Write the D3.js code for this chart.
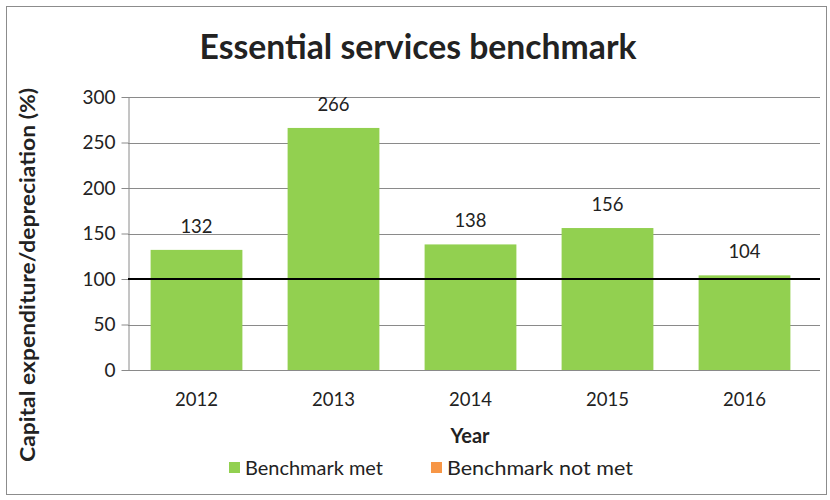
<!DOCTYPE html>
<html>
<head>
<meta charset="utf-8">
<script src="https://cdn.jsdelivr.net/npm/d3@7"></script>
<style>
  html, body { margin: 0; padding: 0; background: #fff; }
  svg { display: block; }
  text { font-family: Lato, "Open Sans", "Liberation Sans", sans-serif; fill: #222; }
</style>
</head>
<body>
<svg id="chart" width="830" height="500"></svg>
<script>
// Capital expenditure as a share of depreciation, by year
const years = ["2012", "2013", "2014", "2015", "2016"];
const ratios = [132, 266, 138, 156, 104];
const benchmark = 100;
const yTicks = [0, 50, 100, 150, 200, 250, 300];
const legendItems = ["Benchmark met", "Benchmark not met"];
const legendColors = ["#92D050", "#F79646"];

const svg = d3.select("#chart");
const W = 830, H = 500;
const m = { left: 128, right: 17, top: 97, bottom: 130 };

// outer chart frame
svg.append("rect")
  .attr("x", 6.5).attr("y", 6.5)
  .attr("width", W - 10).attr("height", H - 12)
  .attr("fill", "#fff").attr("stroke", "#8c8c8c").attr("stroke-width", 1);

const x = d3.scaleBand().domain(years).range([m.left, W - m.right]).paddingInner(0.33).paddingOuter(0.165);
const y = d3.scaleLinear().domain([0, 300]).range([H - m.bottom, m.top]);

// gridlines
svg.append("g")
  .selectAll("line").data(yTicks.slice(1)).join("line")
  .attr("x1", m.left).attr("x2", W - m.right + 7)
  .attr("y1", d => Math.round(y(d)) + 0.5).attr("y2", d => Math.round(y(d)) + 0.5)
  .attr("stroke", "#8a8a8a").attr("stroke-width", 1);

// y axis
const yAxis = svg.append("g")
  .attr("transform", `translate(${m.left + 0.5},0)`)
  .call(d3.axisLeft(y).tickValues(yTicks).tickSize(7).tickPadding(6).tickSizeOuter(0));
yAxis.select(".domain").attr("stroke", "#8a8a8a");
yAxis.selectAll(".tick line").attr("stroke", "#8a8a8a");
yAxis.selectAll(".tick text").attr("font-size", 19).attr("font-family", "Lato, sans-serif").attr("fill", "#222");

// x axis
const xAxis = svg.append("g")
  .attr("transform", `translate(0,${Math.round(y(0)) + 0.5})`)
  .call(d3.axisBottom(x).tickSize(0).tickPadding(22).tickSizeOuter(0));
xAxis.select(".domain").attr("d", `M${m.left},0H${W - m.right + 7}`).attr("stroke", "#8a8a8a");
xAxis.selectAll(".tick text").attr("font-size", 18.5).attr("font-family", "Lato, sans-serif").attr("fill", "#222");

// bars
svg.append("g")
  .selectAll("rect").data(years).join("rect")
  .attr("x", d => x(d))
  .attr("width", x.bandwidth())
  .attr("y", (d, i) => y(ratios[i]))
  .attr("height", (d, i) => y(0) - y(ratios[i]))
  .attr("fill", (d, i) => ratios[i] >= benchmark ? legendColors[0] : legendColors[1]);

// value labels
svg.append("g")
  .selectAll("text").data(years).join("text")
  .attr("x", d => x(d) + x.bandwidth() / 2)
  .attr("y", (d, i) => y(ratios[i]) - 17)
  .attr("text-anchor", "middle")
  .attr("font-size", 18.5)
  .text((d, i) => ratios[i]);

// benchmark line
svg.append("line")
  .attr("x1", m.left).attr("x2", W - m.right + 7)
  .attr("y1", y(benchmark)).attr("y2", y(benchmark))
  .attr("stroke", "#000").attr("stroke-width", 2);

// title
svg.append("text")
  .attr("x", 418).attr("y", 59)
  .attr("text-anchor", "middle")
  .attr("font-size", 34).attr("font-weight", "bold")
  .attr("textLength", 437).attr("lengthAdjust", "spacingAndGlyphs")
  .attr("fill", "#111")
  .text("Essential services benchmark");

// axis titles
svg.append("text")
  .attr("x", 470).attr("y", 443)
  .attr("text-anchor", "middle")
  .attr("font-size", 20).attr("font-weight", "bold")
  .attr("fill", "#111")
  .text("Year");

svg.append("text")
  .attr("transform", `translate(35,275) rotate(-90)`)
  .attr("text-anchor", "middle")
  .attr("font-size", 20).attr("font-weight", "bold")
  .attr("textLength", 374).attr("lengthAdjust", "spacingAndGlyphs")
  .attr("fill", "#111")
  .text("Capital expenditure/depreciation (%)");

// legend
const legendX = [229, 431];
const legendWidths = [138, 186];
const lg = svg.append("g");
legendItems.forEach((name, i) => {
  lg.append("rect")
    .attr("x", legendX[i]).attr("y", 462)
    .attr("width", 11).attr("height", 11)
    .attr("fill", legendColors[i]);
  lg.append("text")
    .attr("x", legendX[i] + 16).attr("y", 475)
    .attr("font-size", 20)
    .attr("textLength", legendWidths[i]).attr("lengthAdjust", "spacingAndGlyphs")
    .text(name);
});
</script>
</body>
</html>
